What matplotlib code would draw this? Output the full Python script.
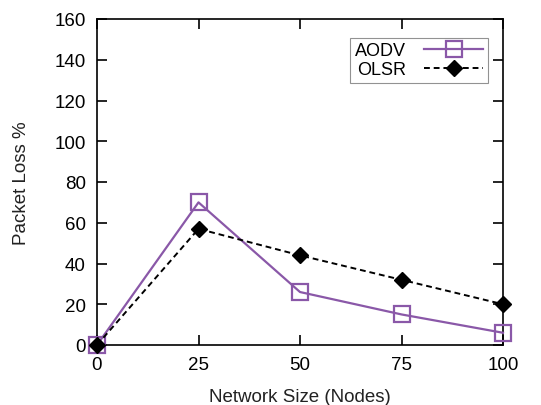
import matplotlib
matplotlib.use("Agg")
import matplotlib.pyplot as plt

plt.rcParams["font.family"] = ["Liberation Sans", "DejaVu Sans"]

nodes = [0, 25, 50, 75, 100]
aodv = [0, 70, 26, 15, 6]
olsr = [0, 57, 44, 32, 20]

fig = plt.figure(figsize=(5.41, 4.06), dpi=100)
ax = fig.add_axes([97 / 541, 1 - 346 / 406, (503 - 97) / 541, (346 - 20) / 406])

ax.plot(nodes, aodv, color="#8a58a8", linewidth=1.6, marker="s", markersize=11,
        markerfacecolor="none", markeredgewidth=1.6, label="AODV", clip_on=False, zorder=3)
ax.plot(nodes, olsr, color="black", linewidth=1.4, linestyle=(0, (3, 2)), marker="D",
        markersize=8.5, label="OLSR", clip_on=False, zorder=4)

ax.set_xlim(0, 100)
ax.set_ylim(0, 160)
ax.set_xticks(nodes)
ax.set_yticks(range(0, 161, 20))
ax.tick_params(direction="in", length=7, width=1.2, labelsize=13.5, top=True, right=True,
               pad=8)
for s in ax.spines.values():
    s.set_linewidth(1.2)

ax.set_xlabel("Network Size (Nodes)", fontsize=13.5, color="#222222", labelpad=11)
ax.set_ylabel("Packet Loss %", fontsize=13.5, color="#222222", labelpad=18)

leg = ax.legend(loc="upper right", bbox_to_anchor=(0.985, 0.97), fontsize=13,
                markerfirst=False, frameon=True, fancybox=False, edgecolor="#777777",
                handlelength=3.3, borderpad=0.25, labelspacing=0.1, handletextpad=1.0)
leg.get_frame().set_linewidth(0.8)

fig.savefig("out.png", dpi=100)
